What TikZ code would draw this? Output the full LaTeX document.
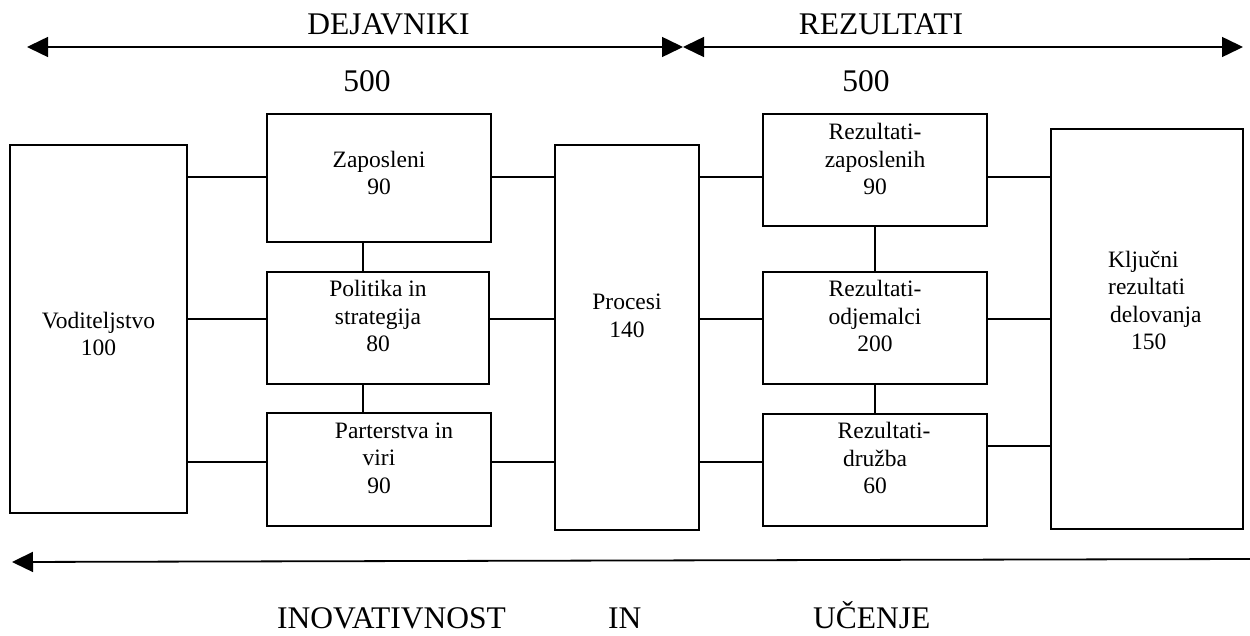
\documentclass[tikz,border=0pt]{standalone}
\usepackage{fontspec}
\setmainfont{Liberation Serif}
\usetikzlibrary{arrows.meta}
\tikzset{bigtip/.tip={Triangle[length=21pt,width=20pt]}}
\begin{document}
\begin{tikzpicture}[x=1pt,y=-1pt,
  box/.style={draw, line width=1.2pt, inner sep=0pt},
  conn/.style={line width=1.2pt},
  txt/.style={font=\fontsize{23.5}{27.5}\selectfont, align=center, inner sep=0pt},
  big/.style={font=\fontsize{31.5}{36}\selectfont, inner sep=0pt},
]
\useasboundingbox (0,0) rectangle (1250,636);

% boxes
\node[box, minimum width=177pt, minimum height=368pt] (vod) at (98.5,329) {};
\node[box, minimum width=224pt, minimum height=128pt] (zap) at (379,178) {};
\node[box, minimum width=222pt, minimum height=112pt] (pol) at (378,328) {};
\node[box, minimum width=224pt, minimum height=113pt] (par) at (379,469.5) {};
\node[box, minimum width=144pt, minimum height=385pt] (pro) at (627,337.5) {};
\node[box, minimum width=224pt, minimum height=112pt] (rz) at (875,170) {};
\node[box, minimum width=224pt, minimum height=112pt] (ro) at (875,328) {};
\node[box, minimum width=224pt, minimum height=112pt] (rd) at (875,470) {};
\node[box, minimum width=192pt, minimum height=400pt] (klj) at (1147,329) {};

% box texts
\node[txt] (vodT) at (98.5,334) {Voditeljstvo\\100};
\node[txt] (zapT) at (379,173) {Zaposleni\\90};
\node[txt] (polT) at (378,316) {Politika in\\strategija\\80};
\node[txt] (parT) at (379,458) {\hspace*{30pt}Parterstva in\\viri\\90};
\node[txt] (proT) at (627,316) {Procesi\\140};
\node[txt] (rzT) at (875,159) {Rezultati-\\zaposlenih\\90};
\node[txt] (roT) at (875,316) {Rezultati-\\odjemalci\\200};
\node[txt] (rdT) at (875,458) {\hspace*{18pt}Rezultati-\\dru\v{z}ba\\60};
\node[txt, align=left, anchor=west] (kljT) at (1108,300.5) {Klju\v{c}ni\\rezultati\\\hspace*{2pt}delovanja\\\hspace*{23pt}150};

% row / column guides
\coordinate (r1) at (0,177);
\coordinate (r2) at (0,319);
\coordinate (r3) at (0,462);
\coordinate (r3b) at (0,446);
\coordinate (c1) at (363,0);
\coordinate (c2) at (875,0);

% connectors left
\draw[conn] (vod.east |- r1) -- (zap.west |- r1);
\draw[conn] (vod.east |- r2) -- (pol.west |- r2);
\draw[conn] (vod.east |- r3) -- (par.west |- r3);
\draw[conn] (zap.east |- r1) -- (pro.west |- r1);
\draw[conn] (pol.east |- r2) -- (pro.west |- r2);
\draw[conn] (par.east |- r3) -- (pro.west |- r3);
\draw[conn] (zap.south -| c1) -- (pol.north -| c1);
\draw[conn] (pol.south -| c1) -- (par.north -| c1);
% connectors right
\draw[conn] (pro.east |- r1) -- (rz.west |- r1);
\draw[conn] (pro.east |- r2) -- (ro.west |- r2);
\draw[conn] (pro.east |- r3) -- (rd.west |- r3);
\draw[conn] (rz.east |- r1) -- (klj.west |- r1);
\draw[conn] (ro.east |- r2) -- (klj.west |- r2);
\draw[conn] (rd.east |- r3b) -- (klj.west |- r3b);
\draw[conn] (rz.south -| c2) -- (ro.north -| c2);
\draw[conn] (ro.south -| c2) -- (rd.north -| c2);

% top arrows
\coordinate (a1) at (27,47);
\coordinate (a2) at (683,47);
\coordinate (a3) at (1243,47);
\draw[line width=1.5pt, {bigtip}-{bigtip}] (a1) -- (a2);
\draw[line width=1.5pt, {bigtip}-{bigtip}] (a2) -- (a3);

% bottom arrow
\coordinate (b1) at (1250,559);
\coordinate (b2) at (12,562);
\draw[line width=1.8pt, -{bigtip}] (b1) -- (b2);

% headings
\node[big, anchor=base] (dej) at (388.5,35) {DEJAVNIKI};
\node[big, anchor=base] (rez) at (881,35) {REZULTATI};
\node[big, anchor=base] (n1) at (367,92) {500};
\node[big, anchor=base] (n2) at (866,92) {500};
\node[big, anchor=base west] (ino) at (277,628) {INOVATIVNOST};
\node[big, anchor=base west] (in) at (608,628) {IN};
\node[big, anchor=base west] (uce) at (813,628) {U\v{C}ENJE};
\end{tikzpicture}
\end{document}
